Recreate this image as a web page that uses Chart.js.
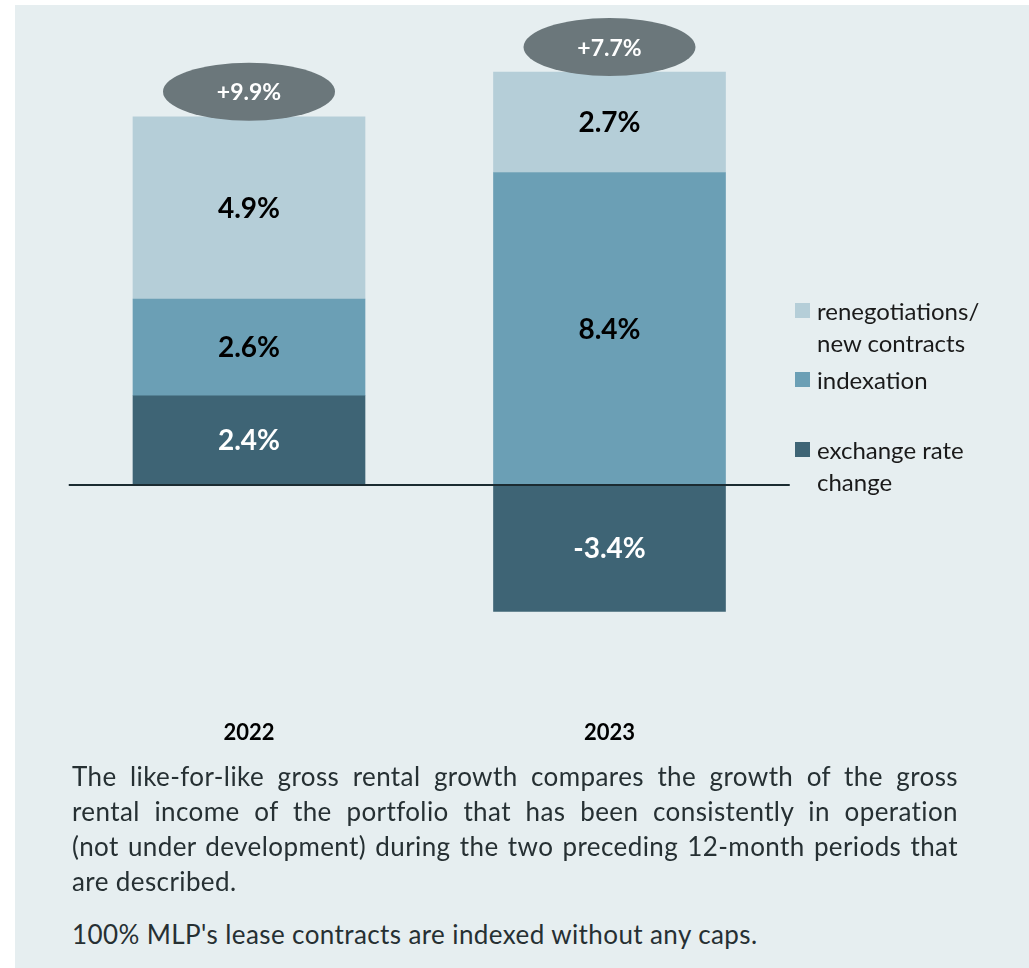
<!DOCTYPE html>
<html lang="en">
<head>
    <meta charset="UTF-8">
    <title>Like-for-like gross rental growth</title>
    <script src="https://cdn.jsdelivr.net/npm/chart.js"></script>
    <style>
        body { margin: 0; background: #ffffff; font-family: Lato, "Open Sans", sans-serif; }
        #panel { position: absolute; left: 15px; top: 5px; width: 1014px; height: 963px; background: #e6eef0; }
        #chartBox { position: absolute; left: 15px; top: 5px; width: 1014px; height: 760px; }
        .legend-item { position: absolute; left: 795px; font-size: 24px; line-height: 32px; color: #1a1a1a; }
        .legend-item .swatch { position: absolute; left: 0; top: 8px; width: 15px; height: 15px; }
        .legend-item .text { position: absolute; left: 22px; top: 0; white-space: nowrap; }
        .note { position: absolute; left: 72px; width: 886px; font-size: 26px; letter-spacing: 0.4px; line-height: 35px; color: #263033; }
        .note div { text-align: justify; text-align-last: justify; white-space: nowrap; }
        .note div.last { text-align-last: left; }
    </style>
</head>
<body>
    <div id="panel"></div>
    <div id="chartBox"><canvas id="growthChart"></canvas></div>
    <div id="legend"></div>

    <div class="note" style="top: 759px;">
        <div>The like-for-like gross rental growth compares the growth of the gross</div>
        <div>rental income of the portfolio that has been consistently in operation</div>
        <div>(not under development) during the two preceding 12-month periods that</div>
        <div class="last">are described.</div>
    </div>
    <div class="note" style="top: 917px;">
        <div class="last">100% MLP's lease contracts are indexed without any caps.</div>
    </div>

    <script>
        // growth components per year, in %
        const years = ['2022', '2023'];
        const exchangeRate = [2.4, -3.4];
        const indexation = [2.6, 8.4];
        const renegotiations = [4.9, 2.7];

        const colors = {
            exchange: '#3e6475',
            indexation: '#6b9fb5',
            renegotiations: '#b5ced8'
        };

        // legend on the right, top to bottom
        const legendItems = [
            { lines: ['renegotiations/', 'new contracts'], color: colors.renegotiations, top: 295 },
            { lines: ['indexation'], color: colors.indexation, top: 364 },
            { lines: ['exchange rate', 'change'], color: colors.exchange, top: 434 }
        ];
        const legendEl = document.getElementById('legend');
        legendItems.forEach(item => {
            const el = document.createElement('div');
            el.className = 'legend-item';
            el.style.top = item.top + 'px';
            el.innerHTML = `<span class="swatch" style="background:${item.color}"></span>` +
                `<span class="text">${item.lines.join('<br>')}</span>`;
            legendEl.appendChild(el);
        });

        function fmt(v) {
            return v.toFixed(1) + '%';
        }

        // values inside each segment, totals in an ellipse above each bar
        const barLabels = {
            id: 'barLabels',
            afterDatasetsDraw(chart) {
                const ctx = chart.ctx;
                const yScale = chart.scales.y;
                const area = chart.chartArea;

                // zero line over the bars
                const y0 = Math.round(yScale.getPixelForValue(0));
                ctx.save();
                ctx.strokeStyle = '#1b2b31';
                ctx.lineWidth = 2;
                ctx.beginPath();
                ctx.moveTo(area.left, y0);
                ctx.lineTo(area.right, y0);
                ctx.stroke();

                ctx.textAlign = 'center';
                ctx.textBaseline = 'middle';
                ctx.font = 'bold 28px Lato';
                chart.data.datasets.forEach((ds, i) => {
                    const meta = chart.getDatasetMeta(i);
                    meta.data.forEach((bar, j) => {
                        const v = ds.data[j];
                        const cy = (bar.y + bar.base) / 2;
                        ctx.fillStyle = ds.labelColor;
                        ctx.fillText(fmt(v), bar.x, cy + 1);
                    });
                });

                // totals
                years.forEach((y, j) => {
                    let total = 0;
                    let posTop = 0;
                    chart.data.datasets.forEach(ds => {
                        total += ds.data[j];
                        if (ds.data[j] > 0) posTop += ds.data[j];
                    });
                    const x = chart.getDatasetMeta(0).data[j].x;
                    const cy = yScale.getPixelForValue(posTop) - 25;
                    ctx.fillStyle = '#6b777b';
                    ctx.beginPath();
                    ctx.ellipse(x, cy, 86, 29, 0, 0, Math.PI * 2);
                    ctx.fill();
                    ctx.fillStyle = '#ffffff';
                    ctx.font = 'bold 23px Lato';
                    ctx.fillText('+' + fmt(total), x, cy + 1);
                });
                ctx.restore();
            }
        };

        const ctx = document.getElementById('growthChart').getContext('2d');
        new Chart(ctx, {
            type: 'bar',
            data: {
                labels: years,
                datasets: [
                    { label: 'exchange rate change', data: exchangeRate, backgroundColor: colors.exchange, labelColor: '#ffffff' },
                    { label: 'indexation', data: indexation, backgroundColor: colors.indexation, labelColor: '#000000' },
                    { label: 'renegotiations/new contracts', data: renegotiations, backgroundColor: colors.renegotiations, labelColor: '#000000' }
                ]
            },
            options: {
                responsive: true,
                maintainAspectRatio: false,
                animation: false,
                barThickness: 232,
                layout: { padding: { left: 53.75, right: 239.25, top: 15, bottom: 0 } },
                plugins: {
                    legend: { display: false },
                    tooltip: { enabled: false }
                },
                scales: {
                    x: {
                        stacked: true,
                        grid: { display: false, drawTicks: false },
                        border: { display: false },
                        ticks: {
                            padding: 12,
                            color: '#000000',
                            font: { family: 'Lato', size: 22, weight: 'bold' }
                        },
                        afterFit(scale) { scale.height = 56.8; }
                    },
                    y: {
                        stacked: true,
                        display: false,
                        min: -6,
                        max: 12.5
                    }
                }
            },
            plugins: [barLabels]
        });
    </script>
</body>
</html>
